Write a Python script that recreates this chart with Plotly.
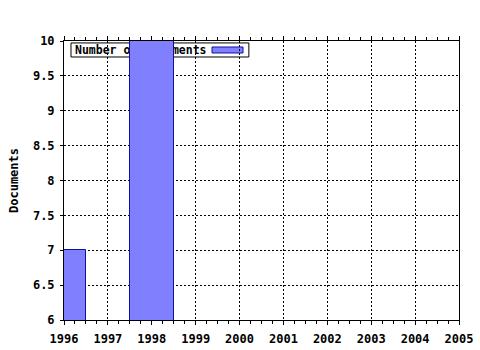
import plotly.graph_objects as go

years = [1996, 1998]
documents = [7, 10]
series_name = "Number of documents"
y_title = "Documents"

FONT = "DejaVu Sans Mono"
fill = "#8080ff"
edge = "#1010a0"

fig = go.Figure()
fig.add_trace(go.Bar(
    x=years, y=documents, width=1, name=series_name,
    marker=dict(color=fill, line=dict(color=edge, width=1)),
    showlegend=False,
))

# legend drawn beneath the bars (as in the reference)
fig.add_shape(type="rect", xref="paper", yref="paper",
              x0=0.0177, x1=0.468, y0=0.9427, y1=0.993,
              layer="between", fillcolor="white",
              line=dict(color="black", width=1),
              label=dict(text=series_name, textposition="middle left",
                         padding=1,
                         font=dict(family=FONT, size=11.5, color="black", weight="bold")))
fig.add_shape(type="rect", xref="paper", yref="paper",
              x0=0.3747, x1=0.4532, y0=0.957, y1=0.9785,
              layer="between", fillcolor=fill,
              line=dict(color=edge, width=1))

tickfont = dict(family=FONT, size=12, color="black", weight="bold")
fig.update_layout(
    width=480, height=350,
    margin=dict(l=64, r=21, t=41, b=30),
    paper_bgcolor="white", plot_bgcolor="white",
    bargap=0,
    xaxis=dict(range=[1996, 2005], dtick=1, tick0=1996, automargin=False,
               showline=True, linecolor="black", linewidth=1, mirror="ticks",
               ticks="outside", ticklen=4, tickcolor="black",
               showgrid=True, gridcolor="black", griddash="2px,2px", gridwidth=1,
               minor=dict(dtick=0.25, ticks="outside", ticklen=3,
                          tickcolor="black", showgrid=False),
               ticklabelstandoff=4,
               tickfont=tickfont, zeroline=False, fixedrange=True),
    yaxis=dict(range=[6, 10], dtick=0.5, tick0=6, automargin=False,
               showline=True, linecolor="black", linewidth=1, mirror=True,
               ticks="outside", ticklen=3, tickcolor="black",
               showgrid=True, gridcolor="black", griddash="2px,2px", gridwidth=1,
               ticklabelstandoff=3,
               tickfont=tickfont, zeroline=False, fixedrange=True,
               title=dict(text=y_title, standoff=11,
                          font=dict(family=FONT, size=12, color="black", weight="bold"))),
)

fig.write_html("out.html")
